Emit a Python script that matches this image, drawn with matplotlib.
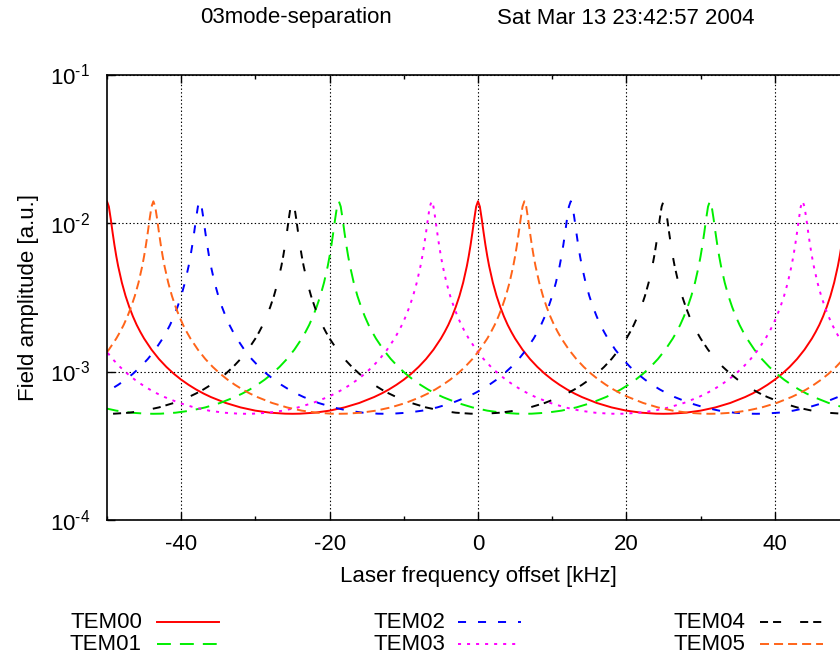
import numpy as np
import matplotlib.pyplot as plt
from matplotlib.lines import Line2D
from matplotlib.ticker import MultipleLocator, FixedLocator, NullLocator, FuncFormatter

# fonts (gnuplot postscript look)
plt.rcParams['font.family'] = ['Liberation Sans', 'DejaVu Sans']
plt.rcParams['mathtext.fontset'] = 'custom'
plt.rcParams['mathtext.rm'] = 'Liberation Sans'
plt.rcParams['mathtext.default'] = 'regular'
plt.rcParams['axes.unicode_minus'] = False
plt.rcParams['lines.scale_dashes'] = False

# resonance profile: detuning from a peak [kHz] -> field amplitude
detuning = [0, 0.25, 0.5, 0.75, 1, 1.25, 1.5, 2, 2.5, 3, 3.5, 4, 4.5, 5, 6, 7, 8,
            9, 10, 11, 12, 13, 14, 16, 18, 20, 22, 24, 25]
amplitude = [0.0140, 0.01289, 0.01068, 0.00866, 0.00712, 0.00598, 0.00513, 0.00397,
             0.003228, 0.00272, 0.002345, 0.00206, 0.001844, 0.001667, 0.001403,
             0.001214, 0.001074, 0.000966, 0.000881, 0.000813, 0.000757, 0.000711,
             0.000673, 0.000614, 0.000573, 0.000545, 0.000528, 0.000520, 0.000519]

# peak positions of each mode [kHz]
modes = ['TEM00', 'TEM01', 'TEM02', 'TEM03', 'TEM04', 'TEM05']
peaks_tem00 = [-50, 0, 50]
peaks_tem01 = [-68.75, -18.75, 31.25, 81.25]
peaks_tem02 = [-87.5, -37.5, 12.5, 62.5]
peaks_tem03 = [-56.25, -6.25, 43.75, 93.75]
peaks_tem04 = [-75, -25, 25, 75]
peaks_tem05 = [-93.75, -43.75, 6.25, 56.25]
peaks = [peaks_tem00, peaks_tem01, peaks_tem02, peaks_tem03, peaks_tem04, peaks_tem05]

y_exponents = [-4, -3, -2, -1]

colors = ['#ff0000', '#00ee00', '#0000ff', '#ff00ff', '#000000', '#ff6419']
dashes = [None, (10, 6.5), (5.8, 8.6), (2.2, 4.3), (5.8, 3.6, 5.8, 13.7), (6.5, 3.6)]

d = np.array(detuning)
a = np.array(amplitude)
d_full = np.concatenate([-d[::-1], d[1:]])
a_full = np.concatenate([a[::-1], a[1:]])

fig = plt.figure(figsize=(8.4, 6.58), dpi=100)
W, H = 840., 658.
ax = fig.add_axes([107 / W, 138 / H, 742 / W, 445.5 / H])

lw = 1.4
for name, pk, col, ds in zip(modes, peaks, colors, dashes):
    x = np.concatenate([p + d_full for p in pk])
    y = np.concatenate([a_full for p in pk])
    ln, = ax.plot(x, y, color=col, lw=lw, label=name)
    if ds is not None:
        ln.set_dashes(ds)

ax.set_yscale('log')
ax.set_xlim(-50, 50)
ax.set_ylim(1e-4, 1e-1)
ax.xaxis.set_major_locator(MultipleLocator(20))
ax.xaxis.set_minor_locator(MultipleLocator(10))
ax.yaxis.set_major_locator(FixedLocator([10.0 ** e for e in y_exponents]))
ax.yaxis.set_minor_locator(NullLocator())
ax.yaxis.set_major_formatter(FuncFormatter(
    lambda v, pos: r'$10^{\text{-}%d}$' % round(-np.log10(v))))
ax.tick_params(which='both', direction='in', top=True, right=True, width=1.0, labelsize=16)
ax.tick_params(which='major', length=6, pad=10)
ax.tick_params(which='minor', length=3)
ax.tick_params(axis='y', pad=12)
ax.grid(True, which='major', color='black', linestyle=':', linewidth=0.8)
for s in ax.spines.values():
    s.set_linewidth(1.2)

ax.set_xlabel('Laser frequency offset [kHz]', fontsize=16, labelpad=8)
ax.set_ylabel('Field amplitude [a.u.]', fontsize=16, labelpad=8)

fig.text(200 / W, 1 - 18 / H, '03mode-separation', ha='left', va='center', fontsize=16)
fig.text(497 / W, 1 - 18 / H, 'Sat Mar 13 23:42:57 2004', ha='left', va='center', fontsize=16)

# gnuplot style key below the plot
text_right = [142, 445, 745]
line_start = [157, 458, 760]
line_end = [219, 521, 823]
rows = [622, 644]
for i, (name, col, ds) in enumerate(zip(modes, colors, dashes)):
    c, r = i // 2, i % 2
    yy = 1 - rows[r] / H
    fig.text(text_right[c] / W, yy, name, ha='right', va='center', fontsize=16)
    l = Line2D([line_start[c] / W, line_end[c] / W], [yy, yy], color=col, lw=lw,
               transform=fig.transFigure)
    if ds is not None:
        l.set_dashes(ds)
    fig.add_artist(l)

fig.savefig('out.png', dpi=100)
